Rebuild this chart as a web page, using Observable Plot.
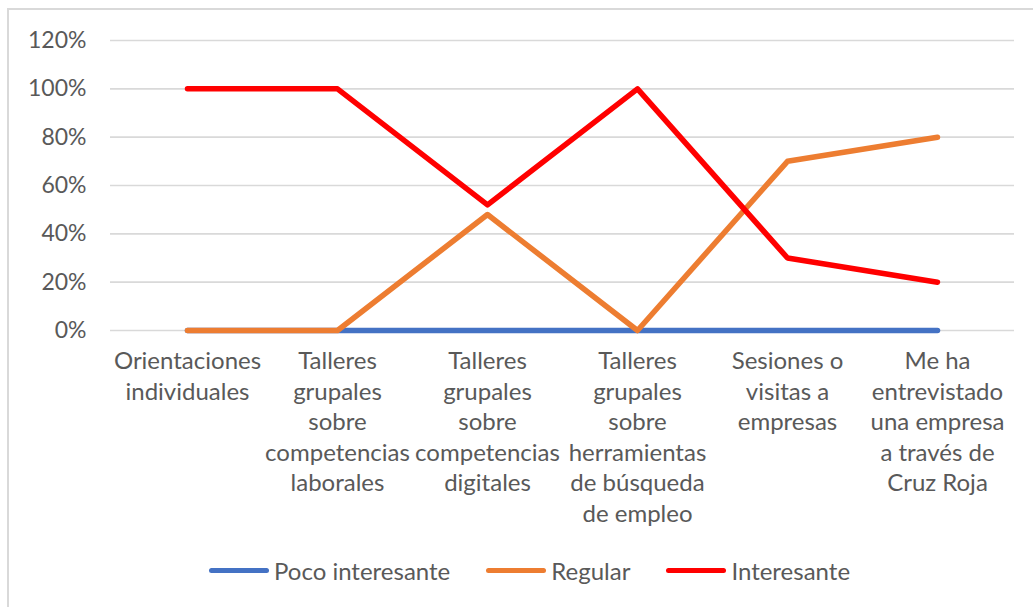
<!DOCTYPE html>
<html>
<head>
<meta charset="utf-8">
<script src="https://cdn.jsdelivr.net/npm/d3@7"></script>
<script src="https://cdn.jsdelivr.net/npm/@observablehq/plot@0.6"></script>
<style>
  html, body { margin: 0; padding: 0; background: #fff; }
  body { width: 1033px; height: 607px; overflow: hidden; position: relative; font-family: Lato, "Open Sans", sans-serif; }
  #frame { position: absolute; left: 7px; top: 8px; width: 1100px; height: 700px; border-left: 2px solid #D9D9D9; border-top: 2px solid #D9D9D9; }
  #chart { position: absolute; left: 0; top: 0; }
  #legend { position: absolute; left: 209px; top: 556px; display: flex; align-items: center; color: #595959; font-size: 24px; font-family: Lato, sans-serif; white-space: nowrap; }
  .item { display: flex; align-items: center; margin-right: 36px; }
  .sw { width: 60px; height: 5px; border-radius: 3px; margin-right: 5px; }
</style>
</head>
<body>
<div id="frame"></div>
<div id="chart"></div>
<div id="legend"></div>
<script>
const categories = [
  "Orientaciones individuales",
  "Talleres grupales sobre competencias laborales",
  "Talleres grupales sobre competencias digitales",
  "Talleres grupales sobre herramientas de búsqueda de empleo",
  "Sesiones o visitas a empresas",
  "Me ha entrevistado una empresa a través de Cruz Roja"
];
const categoryLabels = [
  "Orientaciones\nindividuales",
  "Talleres\ngrupales\nsobre\ncompetencias\nlaborales",
  "Talleres\ngrupales\nsobre\ncompetencias\ndigitales",
  "Talleres\ngrupales\nsobre\nherramientas\nde búsqueda\nde empleo",
  "Sesiones o\nvisitas a\nempresas",
  "Me ha\nentrevistado\nuna empresa\na través de\nCruz Roja"
];
const seriesNames = ["Poco interesante", "Regular", "Interesante"];
const seriesColors = ["#4472C4", "#ED7D31", "#FF0000"];
const pocoInteresante = [0, 0, 0, 0, 0, 0];
const regular = [0, 0, 0.48, 0, 0.70, 0.80];
const interesante = [1, 1, 0.52, 1, 0.30, 0.20];
const yTicks = [0, 0.2, 0.4, 0.6, 0.8, 1.0, 1.2];

const seriesValues = [pocoInteresante, regular, interesante];
const data = seriesValues.flatMap((vals, s) =>
  vals.map((v, i) => ({category: categories[i], value: v, series: seriesNames[s]}))
);
const labelOf = new Map(categories.map((c, i) => [c, categoryLabels[i]]));

const chart = Plot.plot({
  width: 1033,
  height: 545,
  marginLeft: 110,
  marginRight: 19,
  marginTop: 40,
  marginBottom: 215,
  style: {fontFamily: "Lato, sans-serif", fontSize: "24px", color: "#595959", background: "transparent", overflow: "visible"},
  x: {type: "band", domain: categories, padding: 0},
  y: {domain: [0, 1.2]},
  color: {domain: seriesNames, range: seriesColors},
  marks: [
    Plot.gridY(yTicks, {stroke: "#D9D9D9", strokeOpacity: 1, strokeWidth: 1.6}),
    Plot.axisY(yTicks, {tickSize: 0, tickPadding: 24, tickFormat: d => Math.round(d * 100) + "%", fontSize: 23, label: null}),
    Plot.axisX({tickSize: 0, tickPadding: 17, tickFormat: d => labelOf.get(d), fontSize: 24, lineHeight: 1.27, label: null}),
    ...seriesNames.map((name) =>
      Plot.line(data.filter(d => d.series === name), {
        x: "category", y: "value", stroke: "series",
        strokeWidth: 5.5, strokeLinecap: "round", strokeLinejoin: "round"
      })
    )
  ]
});
document.getElementById("chart").appendChild(chart);

const legend = document.getElementById("legend");
seriesNames.forEach((name, i) => {
  const item = document.createElement("div");
  item.className = "item";
  const sw = document.createElement("div");
  sw.className = "sw";
  sw.style.background = seriesColors[i];
  const t = document.createElement("span");
  t.textContent = name;
  item.appendChild(sw);
  item.appendChild(t);
  legend.appendChild(item);
});
</script>
</body>
</html>
